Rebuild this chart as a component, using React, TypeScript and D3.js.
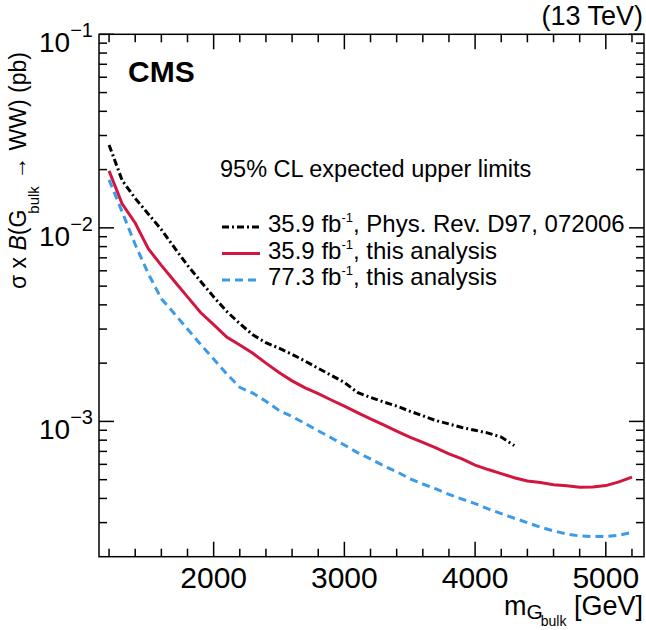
import React from 'react';
import * as d3 from 'd3';

const W = 646;
const H = 630;

// axis ranges
const X_DOMAIN = [1123, 5292];
const Y_DOMAIN = [2e-4, 0.1];

// Phys. Rev. D97, 072006 (35.9 fb-1)
const refMass = [1200, 1300, 1400, 1500, 1600, 1700, 1800, 1900, 2000, 2100, 2200, 2300, 2400, 2500, 2600, 2700, 2800, 2900, 3000, 3100, 3200, 3300, 3400, 3500, 3600, 3700, 3800, 3900, 4000, 4100, 4200, 4300];
const refLimit = [0.0268, 0.0176, 0.0142, 0.0118, 0.0098, 0.0079, 0.0064, 0.0053, 0.0044, 0.0037, 0.0032, 0.0028, 0.00255, 0.00239, 0.00222, 0.00205, 0.00188, 0.00173, 0.00159, 0.00141, 0.00133, 0.00126, 0.0012, 0.00113, 0.00107, 0.00101, 0.00097, 0.00093, 0.0009, 0.00087, 0.00083, 0.00075];

// this analysis
const mass = [1200, 1300, 1400, 1500, 1600, 1700, 1800, 1900, 2000, 2100, 2200, 2300, 2400, 2500, 2600, 2700, 2800, 2900, 3000, 3100, 3200, 3300, 3400, 3500, 3600, 3700, 3800, 3900, 4000, 4100, 4200, 4300, 4400, 4500, 4600, 4700, 4800, 4900, 5000, 5100, 5200];
const limit359 = [0.0197, 0.0133, 0.0106, 0.0078, 0.0064, 0.0053, 0.0044, 0.00365, 0.00316, 0.00273, 0.00248, 0.00225, 0.002, 0.00179, 0.00162, 0.00149, 0.00139, 0.00129, 0.0012, 0.00111, 0.00103, 0.00096, 0.00089, 0.00083, 0.00078, 0.00073, 0.00068, 0.00064, 0.000595, 0.000564, 0.000537, 0.000512, 0.000492, 0.000483, 0.000471, 0.000465, 0.000457, 0.000458, 0.000466, 0.000487, 0.000515];
const limit773 = [0.0177, 0.0121, 0.0082, 0.0058, 0.0043, 0.0036, 0.003, 0.0025, 0.0021, 0.00176, 0.0015, 0.0014, 0.00127, 0.00114, 0.00106, 0.000975, 0.000895, 0.000822, 0.000755, 0.00069, 0.00064, 0.00059, 0.00055, 0.000506, 0.000475, 0.000448, 0.00042, 0.000397, 0.000376, 0.000353, 0.000334, 0.000316, 0.0003, 0.000284, 0.000272, 0.000262, 0.000256, 0.000254, 0.000254, 0.000258, 0.000267];

// ticks
const xMajorTicks = [2000, 3000, 4000, 5000];
const xMajorLabels = ['2000', '3000', '4000', '5000'];
const xMinorTicks = [1200, 1400, 1600, 1800, 2200, 2400, 2600, 2800, 3200, 3400, 3600, 3800, 4200, 4400, 4600, 4800, 5200];
const yMajorTicks = [1e-3, 1e-2, 1e-1];
const yMajorExponents = ['−3', '−2', '−1'];
const yMinorTicks = [3e-4, 4e-4, 5e-4, 6e-4, 7e-4, 8e-4, 9e-4, 2e-3, 3e-3, 4e-3, 5e-3, 6e-3, 7e-3, 8e-3, 9e-3, 2e-2, 3e-2, 4e-2, 5e-2, 6e-2, 7e-2, 8e-2, 9e-2];

const legendTitle = '95% CL expected upper limits';
const legendLumi = ['35.9', '35.9', '77.3'];
const legendRest = [', Phys. Rev. D97, 072006', ', this analysis', ', this analysis'];

const FONT = '"Liberation Sans", Arial, Helvetica, sans-serif';
const RED = '#d2163f';
const BLUE = '#3b9be9';

export default function App() {
  const left = 99, right = 644, top = 34.3, bottom = 556.7;
  const x = d3.scaleLinear().domain(X_DOMAIN).range([left, right]);
  const y = d3.scaleLog().domain(Y_DOMAIN).range([bottom, top]);
  const line = d3.line<[number, number]>().x(d => x(d[0])).y(d => y(d[1]));

  const refPath = line(refMass.map((m, i) => [m, refLimit[i]] as [number, number])) || '';
  const redPath = line(mass.map((m, i) => [m, limit359[i]] as [number, number])) || '';
  const bluePath = line(mass.map((m, i) => [m, limit773[i]] as [number, number])) || '';

  const majorLen = 15, minorLen = 8;
  const styles = [
    { stroke: '#000', dash: '7 3 2 3' },
    { stroke: RED, dash: undefined },
    { stroke: BLUE, dash: '8 5' },
  ];

  return (
    <svg width={W} height={H} style={{ position: 'absolute', left: 0, top: 0, background: '#fff' }} fontFamily={FONT}>
      <rect x={0} y={0} width={W} height={H} fill="#fff" />
      {/* curves */}
      <path d={refPath} fill="none" stroke="#000" strokeWidth={3} strokeDasharray="7 3 2 3" />
      <path d={redPath} fill="none" stroke={RED} strokeWidth={3} />
      <path d={bluePath} fill="none" stroke={BLUE} strokeWidth={3} strokeDasharray="8 5" />

      {/* frame */}
      <rect x={left} y={top} width={right - left} height={bottom - top} fill="none" stroke="#000" strokeWidth={1.5} />

      {/* x ticks bottom & top */}
      {xMajorTicks.map(v => (
        <g key={'xM' + v}>
          <line x1={x(v)} x2={x(v)} y1={bottom} y2={bottom - majorLen} stroke="#000" strokeWidth={1.5} />
          <line x1={x(v)} x2={x(v)} y1={top} y2={top + majorLen} stroke="#000" strokeWidth={1.5} />
        </g>
      ))}
      {xMinorTicks.map(v => (
        <g key={'xm' + v}>
          <line x1={x(v)} x2={x(v)} y1={bottom} y2={bottom - minorLen} stroke="#000" strokeWidth={1.5} />
          <line x1={x(v)} x2={x(v)} y1={top} y2={top + minorLen} stroke="#000" strokeWidth={1.5} />
        </g>
      ))}
      {xMajorTicks.map((v, i) => (
        <text key={'xl' + v} x={x(v)} y={588} fontSize={30} textAnchor="middle">{xMajorLabels[i]}</text>
      ))}

      {/* y ticks left & right */}
      {yMajorTicks.map(v => (
        <g key={'yM' + v}>
          <line x1={left} x2={left + majorLen} y1={y(v)} y2={y(v)} stroke="#000" strokeWidth={1.5} />
          <line x1={right} x2={right - majorLen} y1={y(v)} y2={y(v)} stroke="#000" strokeWidth={1.5} />
        </g>
      ))}
      {yMinorTicks.map(v => (
        <g key={'ym' + v}>
          <line x1={left} x2={left + minorLen} y1={y(v)} y2={y(v)} stroke="#000" strokeWidth={1.5} />
          <line x1={right} x2={right - minorLen} y1={y(v)} y2={y(v)} stroke="#000" strokeWidth={1.5} />
        </g>
      ))}
      {yMajorTicks.map((v, i) => (
        <text key={'yl' + v} x={93} y={Math.max(y(v) + 18, 48)} fontSize={28} textAnchor="end">
          10<tspan fontSize={20} dy={-15}>{yMajorExponents[i]}</tspan>
        </text>
      ))}

      {/* CMS label */}
      <text x={128} y={82} fontSize={30} fontWeight="bold">CMS</text>
      <text x={643} y={25} fontSize={27} textAnchor="end">(13 TeV)</text>

      {/* legend */}
      <text x={220} y={177} fontSize={23.5}>{legendTitle}</text>
      {legendLumi.map((l, i) => {
        const base = 232 + i * 26.5;
        return (
          <g key={'lg' + i}>
            <line x1={222} x2={260} y1={base - 5} y2={base - 5} stroke={styles[i].stroke} strokeWidth={3} strokeDasharray={styles[i].dash} />
            <text x={268} y={base} fontSize={24}>
              {l + ' fb'}<tspan fontSize={13} dy={-10}>-1</tspan><tspan dy={10}>{legendRest[i]}</tspan>
            </text>
          </g>
        );
      })}

      {/* y title */}
      <text transform="translate(26,52) rotate(-90)" fontSize={23} textAnchor="end">
        σ x <tspan fontStyle="italic">B</tspan>(G<tspan fontSize={15} dy={13} dx={-4}>bulk</tspan><tspan dy={-13}> → WW) (pb)</tspan>
      </text>

      {/* x title */}
      <text x={643} y={615} fontSize={27} textAnchor="end">
        m<tspan fontSize={21} dy={4}>G</tspan><tspan fontSize={14} dy={7} dx={-2}>bulk</tspan><tspan fontSize={27} dy={-11}> [GeV]</tspan>
      </text>
    </svg>
  );
}
